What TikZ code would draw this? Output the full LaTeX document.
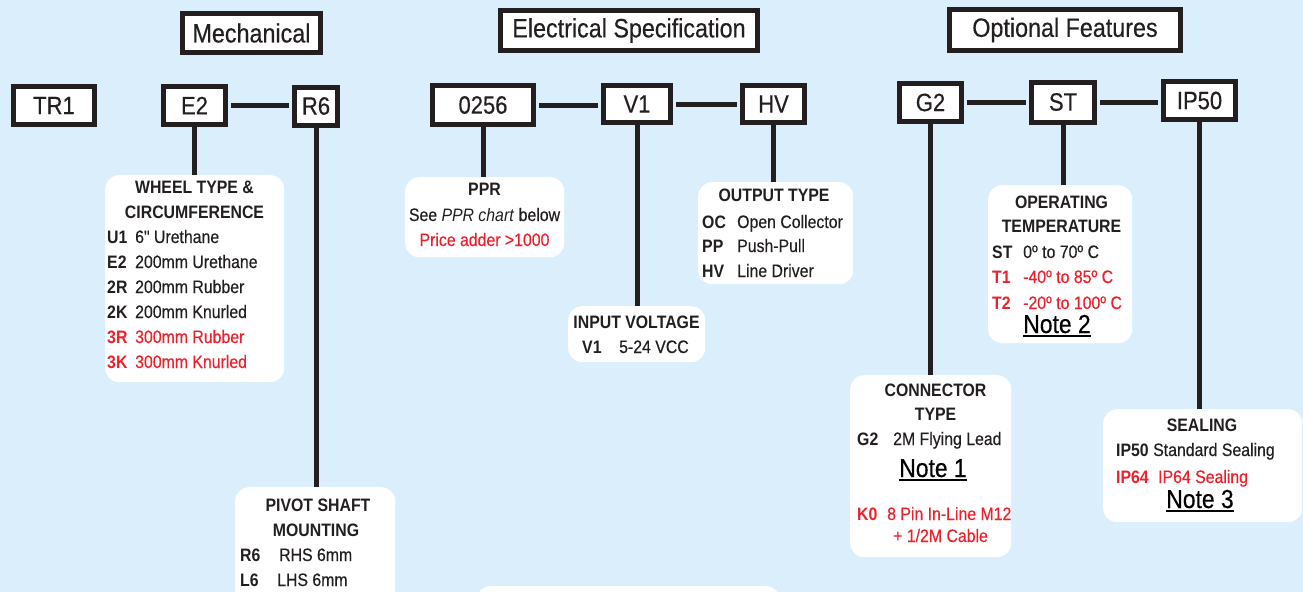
\documentclass[tikz,border=0pt]{standalone}
\usepackage{fontspec}
\setmainfont[FakeStretch=0.88, Ligatures=TeXOff, UprightFeatures={FakeBold=0.35}]{Liberation Sans}
\usetikzlibrary{positioning}
\definecolor{skyBack}{RGB}{218,239,251}
\definecolor{inkGrey}{RGB}{35,31,32}
\definecolor{optRed}{RGB}{237,32,44}

\begin{document}
\begin{tikzpicture}[x=1pt, y=-1pt, text=inkGrey, font=\fontsize{18}{22}\selectfont,
					header/.style={draw=inkGrey, line width=5pt, fill=white, inner sep=0pt, font=\fontsize{26.5}{30}\selectfont},
					codebox/.style={draw=inkGrey, line width=5pt, fill=white, inner sep=0pt, font=\fontsize{25}{28}\selectfont},
					infobox/.style={fill=white, rounded corners=14pt, anchor=north west, inner sep=0pt},
					link/.style={draw=inkGrey, line width=5pt, shorten <=3pt, shorten >=3pt},
					stem/.style={draw=inkGrey, line width=5pt},
					title/.style={font=\fontsize{18}{22}\selectfont\bfseries, anchor=base, inner sep=0pt},
					key/.style={font=\fontsize{18}{22}\selectfont\bfseries, anchor=base west, inner sep=0pt},
					desc/.style={anchor=base west, inner sep=0pt},
					note/.style={font=\fontsize{26}{30}\selectfont, anchor=base, inner xsep=0pt, inner ysep=2.5pt, text=black}]
					\fill[skyBack] (0,0) rectangle (1303,592);
					\useasboundingbox (0,0) rectangle (1303,592);
					% group headers
					\node[header, minimum width=138, minimum height=39] (mech) at (251.5,33) {Mechanical};
					\node[header, minimum width=257, minimum height=40] (elec) at (629,30.5) {Electrical Specification};
					\node[header, minimum width=231, minimum height=41] (opt) at (1065,30) {Optional Features};
					% part number codes
					\node[codebox, minimum width=81, minimum height=38] (tr1) at (54,105.5) {TR1};
					\node[codebox, minimum width=62, minimum height=38] (e2) at (194.5,105.5) {E2};
					\node[codebox, minimum width=43, minimum height=38] (r6) at (316,106) {R6};
					\node[codebox, minimum width=101, minimum height=39] (ppr) at (483,105) {0256};
					\node[codebox, minimum width=67, minimum height=37] (v1) at (637,104) {V1};
					\node[codebox, minimum width=62, minimum height=37] (hv) at (773.5,104) {HV};
					\node[codebox, minimum width=62, minimum height=38] (g2) at (930.5,102.5) {G2};
					\node[codebox, minimum width=63, minimum height=40] (st) at (1063,102) {ST};
					\node[codebox, minimum width=72, minimum height=38] (ip50) at (1199.5,100.5) {IP50};
					\draw[link] (e2) -- (e2 -| r6.west);
					\draw[link] (ppr) -- (ppr -| v1.west);
					\draw[link] (v1) -- (v1 -| hv.west);
					\draw[link] (g2) -- (g2 -| st.west);
					\draw[link] (st) -- (st -| ip50.west);
					% option panels
					\node[infobox, minimum width=179, minimum height=207] (wheel) at (105,175) {};
					\node[infobox, minimum width=159, minimum height=80] (pprinfo) at (405,177) {};
					\node[infobox, minimum width=137, minimum height=56] (volt) at (568,306) {};
					\node[infobox, minimum width=155, minimum height=102] (output) at (698,182) {};
					\node[infobox, minimum width=161, minimum height=182] (conn) at (850,375) {};
					\node[infobox, minimum width=144, minimum height=158] (temp) at (988,185) {};
					\node[infobox, minimum width=199, minimum height=113] (seal) at (1103,409) {};
					\node[infobox, minimum width=160, minimum height=130] (pivot) at (235,487) {};
					\node[infobox, minimum width=304, minimum height=60] (chart) at (476,586) {};
					\draw[stem] (e2) -- (e2 |- wheel.north);
					\draw[stem] (r6) -- (r6 |- pivot.north);
					\draw[stem] (ppr) -- (ppr |- pprinfo.north);
					\draw[stem] (v1) -- (v1 |- volt.north);
					\draw[stem] (hv) -- (hv |- output.north);
					\draw[stem] (g2) -- (g2 |- conn.north);
					\draw[stem] (st) -- (st |- temp.north);
					\draw[stem] (ip50) -- (ip50 |- seal.north);
					% wheel type
					\node[title] (wheelA) at (194.5,193) {WHEEL TYPE \&};
					\node[title] (wheelB) at (194.5,218) {CIRCUMFERENCE};
					\foreach \k/\d/\y/\c in {U1/{6" Urethane}/243/inkGrey, E2/{200mm Urethane}/268/inkGrey, 2R/{200mm Rubber}/293/inkGrey, 2K/{200mm Knurled}/318/inkGrey, 3R/{300mm Rubber}/343/optRed, 3K/{300mm Knurled}/368/optRed}{
						\node[key, text=\c] (wk-\k) at (107,\y) {\k};
						\node[desc, text=\c] (wd-\k) at (135,\y) {\d};
					}
					% pivot shaft
					\node[title] (pivotA) at (318,511) {PIVOT SHAFT};
					\node[title] (pivotB) at (316,536) {MOUNTING};
					\node[key] (pk-R6) at (240,561) {R6};
					\node[desc] (pd-R6) at (279,561) {RHS 6mm};
					\node[key] (pk-L6) at (240,586) {L6};
					\node[desc] (pd-L6) at (277,586) {LHS 6mm};
					% ppr
					\node[title] (pprA) at (484.5,195) {PPR};
					\node[anchor=base, inner sep=0pt] (pprB) at (484.5,221) {See \textit{PPR chart} below};
					\node[anchor=base, inner sep=0pt, text=optRed] (pprC) at (484.5,246) {Price adder >1000};
					% input voltage
					\node[title] (voltA) at (636.5,328) {INPUT VOLTAGE};
					\node[key] (vk) at (582,353) {V1};
					\node[desc] (vd) at (619,353) {5-24 VCC};
					% output type
					\node[title] (outA) at (774,201) {OUTPUT TYPE};
					\foreach \k/\d/\y in {OC/Open Collector/228, PP/Push-Pull/252, HV/Line Driver/277}{
						\node[key] (ok-\k) at (702,\y) {\k};
						\node[desc] (od-\k) at (737,\y) {\d};
					}
					% connector type
					\node[title] (connA) at (935.5,396) {CONNECTOR};
					\node[title] (connB) at (935.5,420) {TYPE};
					\node[key] (ck-G2) at (857,445) {G2};
					\node[desc] (cd-G2) at (893,445) {2M Flying Lead};
					\node[note] (note1) at (933,477) {Note 1};
					\draw[line width=1.6pt] (note1.south west) -- (note1.south east);
					\node[key, text=optRed] (ck-K0) at (857,520) {K0};
					\node[desc, text=optRed] (cd-K0) at (887,520) {8 Pin In-Line M12};
					\node[desc, text=optRed] (cd-K0b) at (893,542) {+ 1/2M Cable};
					% operating temperature
					\node[title] (tempA) at (1061.5,208) {OPERATING};
					\node[title] (tempB) at (1061.5,232) {TEMPERATURE};
					\foreach \k/\d/\y/\c in {ST/{0º to 70º C}/258/inkGrey, T1/{-40º to 85º C}/283/optRed, T2/{-20º to 100º C}/309/optRed}{
						\node[key, text=\c] (tk-\k) at (992,\y) {\k};
						\node[desc, text=\c] (td-\k) at (1023,\y) {\d};
					}
					\node[note] (note2) at (1057,333) {Note 2};
					\draw[line width=1.6pt] (note2.south west) -- (note2.south east);
					% sealing
					\node[title] (sealA) at (1202,431) {SEALING};
					\node[key] (sk-IP50) at (1116,456) {IP50};
					\node[desc] (sd-IP50) at (1153,456) {Standard Sealing};
					\node[key, text=optRed] (sk-IP64) at (1116,483) {IP64};
					\node[desc, text=optRed] (sd-IP64) at (1158,483) {IP64 Sealing};
					\node[note] (note3) at (1200,508) {Note 3};
					\draw[line width=1.6pt] (note3.south west) -- (note3.south east);
				\end{tikzpicture}
\end{document}
